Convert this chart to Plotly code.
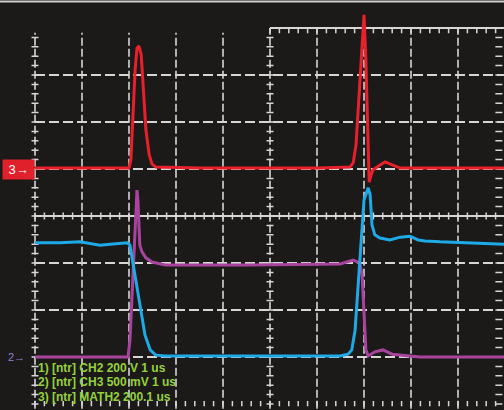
import plotly.graph_objects as go

# time in microseconds (1 us / div), amplitude in screen divisions
red_t = [0.00, 0.96, 2.00, 2.04, 2.08, 2.13, 2.17, 2.21, 2.26, 2.30, 2.36, 2.43, 2.49, 2.57, 3.51, 4.79, 6.06, 6.70, 6.77, 6.83,
         6.89, 6.96, 7.00, 7.04, 7.09, 7.11, 7.15, 7.19, 7.30, 7.45, 7.60, 7.77, 8.83, 9.98]
red_v = [1.02, 1.02, 1.02, 1.19, 2.04, 3.11, 3.57, 3.62, 3.43, 2.68, 1.83, 1.30, 1.11, 1.04, 1.02, 1.02, 1.02, 1.04, 1.13, 1.51,
         2.47, 3.74, 4.28, 3.32, 1.40, 0.72, 0.87, 0.98, 1.06, 1.15, 1.09, 1.02, 1.02, 1.02]

cyan_t = [0.00, 0.53, 0.96, 1.38, 1.60, 1.96, 2.02, 2.09, 2.17, 2.26, 2.34, 2.45, 2.57, 2.77, 4.57, 6.49, 6.66, 6.74, 6.81, 6.87,
          6.94, 7.00, 7.09, 7.13, 7.17, 7.23, 7.34, 7.55, 7.77, 7.98, 8.15, 8.30, 8.62, 9.26, 9.98]
cyan_v = [-0.57, -0.57, -0.55, -0.62, -0.60, -0.57, -0.62, -1.04, -1.57, -2.11, -2.53, -2.85, -2.96, -2.98, -2.98, -2.98, -2.94, -2.85, -2.43, -1.57,
          -0.51, 0.34, 0.60, 0.45, -0.19, -0.40, -0.47, -0.51, -0.45, -0.43, -0.51, -0.53, -0.55, -0.57, -0.60]

purple_t = [0.00, 1.98, 2.02, 2.06, 2.11, 2.15, 2.17, 2.19, 2.23, 2.28, 2.36, 2.49, 2.77, 4.57, 6.49, 6.77, 6.91, 6.96, 7.00, 7.04,
            7.09, 7.23, 7.40, 7.60, 8.19, 9.98]
purple_v = [-3.00, -3.00, -2.64, -1.79, -0.51, 0.34, 0.55, 0.34, -0.62, -0.77, -0.89, -0.98, -1.04, -1.04, -1.02, -0.94, -1.00, -1.26, -2.21, -2.85,
            -2.98, -2.89, -2.85, -2.94, -3.00, -3.00]

info_lines = ["1) [ntr] CH2 200 V 1 us", "2) [ntr] CH3 500 mV 1 us", "3) [ntr] MATH2 200.1 us"]

W, H = 504, 410
PX = 47.0            # pixels per division
X0PX, Y0PX = 35, 216  # screen origin (left edge, centre line)
XMIN, XMAX = -X0PX / PX, (W - X0PX) / PX
YMIN, YMAX = -(H - Y0PX) / PX, Y0PX / PX
XR = 9.98            # right edge of graticule
XT = 9.87            # right tick column

BG = "#1c1919"
GRID = "#d6d6d6"

fig = go.Figure()
fig.add_trace(go.Scatter(x=red_t, y=red_v, mode="lines", line=dict(color="#e8202c", width=3), hoverinfo="skip"))
fig.add_trace(go.Scatter(x=purple_t, y=purple_v, mode="lines", line=dict(color="#a8449e", width=3), hoverinfo="skip"))
fig.add_trace(go.Scatter(x=cyan_t, y=cyan_v, mode="lines", line=dict(color="#1eaae6", width=3), hoverinfo="skip"))

shapes = []
dash = "10px,4px"
for j in range(-3, 4):
    if j == 0:
        continue
    shapes.append(dict(type="line", xref="x", yref="y", x0=0, x1=XR, y0=j, y1=j,
                       line=dict(color=GRID, width=2, dash=dash), layer="below"))
shapes.append(dict(type="line", xref="x", yref="y", x0=0, x1=XR, y0=0, y1=0,
                   line=dict(color=GRID, width=2), layer="below"))
shapes.append(dict(type="line", xref="x", yref="y", x0=5, x1=XR, y0=4, y1=4,
                   line=dict(color=GRID, width=2), layer="below"))
for i in range(0, 10):
    top = 4 if i >= 5 else 3.9
    shapes.append(dict(type="line", xref="x", yref="y", x0=i, x1=i, y0=-4.1, y1=top,
                       line=dict(color=GRID, width=1.6, dash="8px,3px"), layer="below"))

tl = 3.5 / PX
segs = []
for k in range(-20, 20):
    y = k * 0.2
    if -4.05 <= y <= 3.9:
        segs.append(f"M{5 - tl},{y} L{5 + tl},{y}")
        segs.append(f"M{0 - tl},{y} L{0 + tl},{y}")
        segs.append(f"M{XT - tl},{y} L{XT + tl},{y}")
for k in range(0, 51):
    x = k * 0.2
    if x <= XR:
        segs.append(f"M{x},{-tl} L{x},{tl}")
        segs.append(f"M{x},{-4.05} L{x},{-4.05 + 1.5 * tl}")
        if x >= 5:
            segs.append(f"M{x},{4} L{x},{4 - 1.5 * tl}")
shapes.append(dict(type="path", xref="x", yref="y", path=" ".join(segs),
                   line=dict(color=GRID, width=1.5), layer="below"))

shapes.append(dict(type="line", xref="paper", yref="paper", x0=0, x1=1, y0=1 - 1.5 / H, y1=1 - 1.5 / H,
                   line=dict(color="#cfcfcf", width=2)))

annotations = []
annotations.append(dict(x=-0.36, y=0.98, xref="x", yref="y", text=" 3→ ", showarrow=False,
                        font=dict(family="Liberation Sans, Arial", size=13, color="white"),
                        bgcolor="#e0202a", borderpad=2))
annotations.append(dict(x=-0.40, y=-3.0, xref="x", yref="y", text="2→", showarrow=False,
                        font=dict(family="Liberation Sans, Arial", size=11, color="#8f7fd8")))
rows_y = [(Y0PX - 368) / PX, (Y0PX - 382) / PX, (Y0PX - 397) / PX]
for txt, yy in zip(info_lines, rows_y):
    annotations.append(dict(x=0.02, y=yy, xref="x", yref="y", text="<b>" + txt + "</b>", showarrow=False,
                            xanchor="left", yanchor="middle",
                            font=dict(family="Liberation Sans, Arial", size=12, color="#94d23c")))

fig.update_layout(
    width=W, height=H, autosize=False,
    margin=dict(l=0, r=0, t=0, b=0),
    paper_bgcolor=BG, plot_bgcolor=BG,
    showlegend=False,
    xaxis=dict(range=[XMIN, XMAX], visible=False, fixedrange=True),
    yaxis=dict(range=[YMIN, YMAX], visible=False, fixedrange=True),
    shapes=shapes, annotations=annotations,
)

fig.write_html("out.html", config={"displayModeBar": False},
               post_script="document.body.style.margin='0px';document.body.style.background='%s';" % BG)
